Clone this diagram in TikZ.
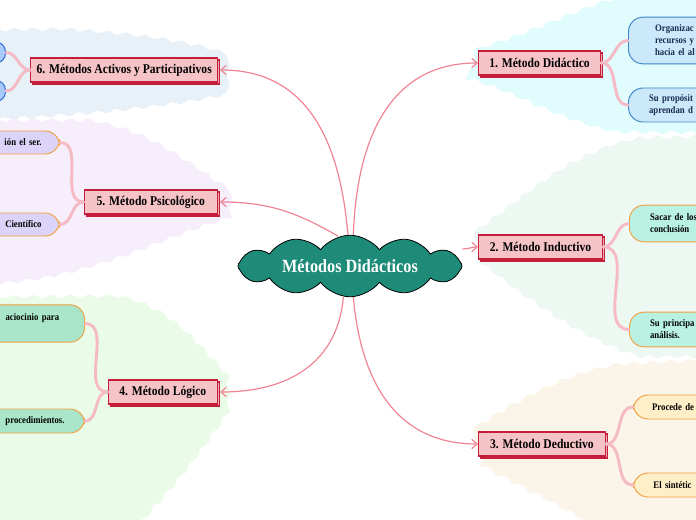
\documentclass[tikz,border=0pt]{standalone}
\usepackage{fontspec}
\setmainfont{Liberation Serif}[FakeStretch=0.87]
\usetikzlibrary{shapes.symbols,shadows,arrows.meta,decorations.pathmorphing}
\definecolor{crimson}{HTML}{C41E3A}
\definecolor{mainpink}{HTML}{F6C3C7}
\definecolor{shadowpink}{HTML}{EFA9B2}
\definecolor{arrowpink}{HTML}{F08494}
\definecolor{branchpink}{HTML}{F6BAC4}
\definecolor{teal}{HTML}{1E8A78}
\definecolor{regA}{HTML}{E0FCFD}
\definecolor{regB}{HTML}{EEF8F3}
\definecolor{regC}{HTML}{FAF5E8}
\definecolor{regD}{HTML}{EAFCE8}
\definecolor{regE}{HTML}{F6EEFB}
\definecolor{regF}{HTML}{E8F1F8}
\definecolor{bluefill}{HTML}{CBE9FB}
\definecolor{blueline}{HTML}{3D85C6}
\definecolor{circfill}{HTML}{A9C9F9}
\definecolor{circline}{HTML}{2563D9}
\definecolor{orangeline}{HTML}{F0A040}
\definecolor{lavfill}{HTML}{DCD4F8}
\definecolor{greenfill}{HTML}{A9E6C9}
\definecolor{mintfill}{HTML}{B9F2E2}
\definecolor{creamfill}{HTML}{FFEFC8}
\definecolor{navytext}{HTML}{1A2A50}
\begin{document}
\begin{tikzpicture}[x=0.75pt,y=-0.75pt,
  wavy/.style={decorate,decoration={snake,amplitude=1.2pt,segment length=14pt}},
  mainbox/.style={draw=crimson, fill=mainpink, line width=0.8pt, minimum height=18pt,
    inner xsep=4pt, font=\bfseries\fontsize{10}{11}\selectfont,
    copy shadow={shadow xshift=1.5pt, shadow yshift=-1.5pt, fill=shadowpink, draw=crimson, line width=0.8pt}},
  subbox/.style={draw=orangeline, line width=0.7pt, rounded corners=11pt,
    font=\bfseries\fontsize{7.5}{9}\selectfont},
  rightsub/.style={subbox, anchor=west, text width=120pt, align=left, inner xsep=15.5pt},
  leftsub/.style={subbox, anchor=east, text width=150pt, align=right},
  mainarrow/.style={draw=arrowpink, line width=0.9pt, -{Straight Barb[length=4pt,width=7pt]}},
  childline/.style={draw=branchpink, line width=2.2pt, line cap=round}
]
\useasboundingbox (0,0) rectangle (696,520);
% background regions
\fill[regF, wavy] (-10,30) -- (60,29) .. controls (150,34) and (200,45) .. (226,55) -- (226,90) .. controls (180,100) and (100,110) .. (-10,115) -- cycle;
\fill[regE, wavy] (-10,120) -- (80,120) .. controls (150,130) and (190,170) .. (226,190) -- (226,222) .. controls (160,240) and (100,280) .. (-10,288) -- cycle;
\fill[regD, wavy] (-10,297) -- (110,296) .. controls (170,305) and (200,355) .. (226,378) -- (226,410) .. controls (200,450) and (160,500) .. (130,530) -- (-10,530) -- cycle;
\fill[regA, wavy] (474,50) .. controls (540,30) and (580,5) .. (630,-5) -- (710,-5) -- (710,136) -- (620,135) .. controls (560,122) and (520,95) .. (474,82) -- cycle;
\fill[regB, wavy] (474,232) .. controls (520,200) and (570,150) .. (640,140) -- (710,138) -- (710,358) -- (630,358) .. controls (570,340) and (520,300) .. (474,266) -- cycle;
\fill[regC, wavy] (474,428) .. controls (520,400) and (560,375) .. (620,366) -- (710,362) -- (710,530) -- (595,530) .. controls (540,500) and (500,480) .. (474,466) -- cycle;

% central cloud
\node[cloud, cloud puffs=12, cloud puff arc=105, aspect=5, minimum width=168pt, minimum height=31pt, inner sep=0pt,
  fill=teal, draw=black, line width=0.6pt, text=white, font=\bfseries\fontsize{14}{16}\selectfont]
  (c) at (350,266) {Métodos Didácticos};

% main nodes
\node[mainbox, anchor=west, minimum width=91.5pt] (n1) at (478,63) {1. Método Didáctico};
\node[mainbox, anchor=west, minimum width=93pt] (n2) at (478,247) {2. Método Inductivo};
\node[mainbox, anchor=west, minimum width=95pt] (n3) at (478,444) {3. Método Deductivo};
\node[mainbox, anchor=east, minimum width=82pt] (n4) at (218,392) {4. Método Lógico};
\node[mainbox, anchor=east, minimum width=100pt] (n5) at (218,202) {5. Método Psicológico};
\node[mainbox, anchor=east, minimum width=140pt] (n6) at (218,70) {6. Métodos Activos y Participativos};

% sub nodes right
\node[rightsub, fill=bluefill, draw=blueline, text=navytext, minimum height=35pt, inner xsep=20pt] (c1a) at (628,40.5) {Organizac\\recursos y\\hacia el al};
\node[rightsub, fill=bluefill, draw=blueline, text=navytext, minimum height=25.5pt] (c1b) at (628,105) {Su propósit\\aprendan d};
\node[rightsub, fill=mintfill, minimum height=27.5pt] (c2a) at (629,223.5) {Sacar de los\\conclusión};
\node[rightsub, fill=mintfill, minimum height=26pt] (c2b) at (629,329.5) {Su principa\\análisis.};
\node[rightsub, fill=creamfill, minimum height=18pt, inner xsep=14pt] (c3a) at (633,407) {Procede de};
\node[rightsub, fill=creamfill, minimum height=18pt, inner xsep=15pt] (c3b) at (633,485) {El sintétic};

% sub nodes left
\node[leftsub, fill=greenfill, minimum height=28pt, inner xsep=19pt] (c4a) at (85,323.5) {aciocinio para\\\phantom{x}};
\node[leftsub, fill=greenfill, minimum height=18pt, inner xsep=15pt] (c4b) at (85,421) {procedimientos.};
\node[leftsub, fill=lavfill, minimum height=17.25pt, inner xsep=13.5pt] (c5a) at (60,142.5) {ión el ser.};
\node[leftsub, fill=lavfill, minimum height=17.25pt, inner xsep=13.5pt] (c5b) at (60,224.5) {Científico};
\node[draw=circline, fill=circfill, line width=0.7pt, rounded corners=7.5pt, anchor=east,
  minimum width=40pt, minimum height=16pt] (c6a) at (6,52.5) {};
\node[draw=circline, fill=circfill, line width=0.7pt, rounded corners=7.5pt, anchor=east,
  minimum width=40pt, minimum height=16pt] (c6b) at (6,91) {};

% branches
\draw[childline] (n1.east) to[out=0,in=180] (c1a.west);
\draw[childline] (n1.east) to[out=0,in=180] (c1b.west);
\draw[childline] (n2.east) to[out=0,in=180] (c2a.west);
\draw[childline] (n2.east) to[out=0,in=180] (c2b.west);
\draw[childline] (n3.east) to[out=0,in=180] (c3a.west);
\draw[childline] (n3.east) to[out=0,in=180] (c3b.west);
\draw[childline] (n4.west) to[out=180,in=0] (c4a.east);
\draw[childline] (n4.west) to[out=180,in=0] (c4b.east);
\draw[childline] (n5.west) to[out=180,in=0] (c5a.east);
\draw[childline] (n5.west) to[out=180,in=0] (c5b.east);
\draw[childline] (n6.west) to[out=180,in=0] (c6a.east);
\draw[childline] (n6.west) to[out=180,in=0] (c6b.east);

% main connectors
\draw[mainarrow] ([xshift=2.5pt]c.north) to[out=88,in=180,looseness=1.1] (n1.west);
\draw[mainarrow] ([xshift=-1.5pt]c.north) to[out=95,in=0,looseness=1.1] ([xshift=1.5pt]n6.east);
\draw[mainarrow] ([xshift=-9pt,yshift=-1pt]c.north) to[out=150,in=0] ([xshift=1.5pt]n5.east);
\draw[mainarrow] ([yshift=12.75pt]c.east) to[out=0,in=180] (n2.west);
\draw[mainarrow] ([xshift=-5pt]c.south) to[out=265,in=0,looseness=1.1] ([xshift=1.5pt]n4.east);
\draw[mainarrow] ([xshift=2.5pt]c.south) to[out=-85,in=180,looseness=1.1] (n3.west);
\end{tikzpicture}
\end{document}
